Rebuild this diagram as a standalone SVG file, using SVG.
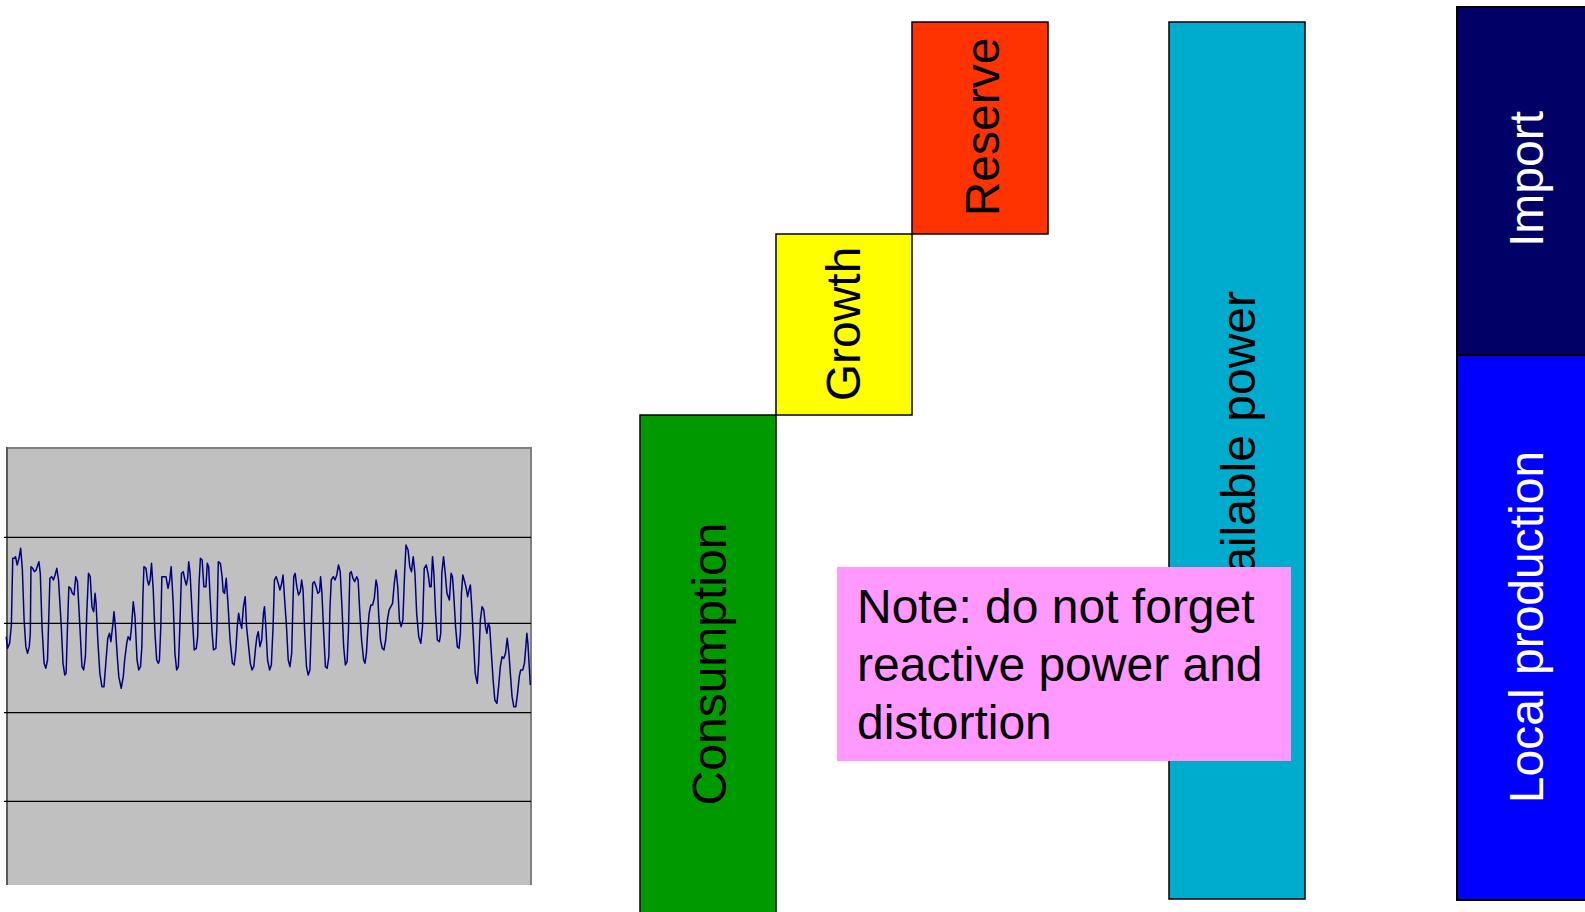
<svg xmlns="http://www.w3.org/2000/svg" width="1585" height="912" viewBox="0 0 1585 912">
<style>
.lbl{font-family:"Liberation Sans",Arial,sans-serif;font-size:48px;text-anchor:middle}
.bar{stroke:#000;stroke-width:1.5}
.grid{stroke:#000;stroke-width:1.2}
.note{font-family:"Liberation Sans",Arial,sans-serif;font-size:48px}
</style>
<rect width="1585" height="912" fill="#fff"/>
<g id="chart">
<rect x="7" y="448" width="524" height="437" fill="#C0C0C0"/>
<line x1="6" y1="448" x2="531" y2="448" stroke="#808080" stroke-width="2"/>
<line x1="531" y1="447" x2="531" y2="885" stroke="#808080" stroke-width="2"/>
<line x1="7" y1="447" x2="7" y2="885" stroke="#5a5a5a" stroke-width="2"/>
<g class="grid">
<line x1="4" y1="537.3" x2="531" y2="537.3"/>
<line x1="4" y1="623.3" x2="531" y2="623.3"/>
<line x1="4" y1="712.7" x2="531" y2="712.7"/>
<line x1="4" y1="801.3" x2="531" y2="801.3"/>
</g>
<polyline transform="translate(0,440) scale(0.34435,0.33333)" fill="none" stroke="#000080" stroke-width="1.5" vector-effect="non-scaling-stroke" stroke-linejoin="round" points="18,590 22,625 28,610 33,555 35,455 37,355 42,355 45,350 50,375 55,355 60,325 65,390 70,540 75,620 80,640 85,620 88,580 90,380 95,385 100,395 105,390 108,380 113,365 117,400 122,560 128,670 133,685 138,660 142,520 145,415 150,410 155,420 160,405 165,385 170,420 178,560 183,670 188,705 192,700 196,560 200,440 205,445 210,460 215,465 220,410 225,425 232,560 238,680 243,690 248,650 252,520 257,400 262,410 267,500 272,515 276,460 279,490 284,600 290,700 296,740 302,740 308,660 313,595 318,580 322,605 328,550 331,515 335,560 340,640 345,710 352,745 358,710 362,660 368,610 372,590 378,600 382,560 387,485 392,530 398,660 403,690 408,680 412,620 415,470 418,380 424,385 428,420 432,435 436,420 440,370 445,450 450,580 455,660 460,670 463,660 467,560 470,410 475,410 482,410 488,445 493,420 497,380 503,490 508,640 513,690 518,680 522,570 527,400 532,395 537,420 541,435 545,415 548,365 552,400 558,520 564,630 570,625 574,590 578,430 582,355 587,360 592,440 598,440 602,370 606,380 610,470 616,580 620,630 627,625 630,560 634,365 640,370 645,410 648,455 652,460 657,415 662,490 668,600 675,670 680,675 685,630 689,560 693,520 697,545 702,565 707,500 712,470 716,560 722,620 727,670 732,690 737,680 742,625 746,590 750,575 755,620 760,600 765,520 768,500 772,560 777,660 783,690 788,675 793,560 797,420 802,410 808,430 813,450 818,430 822,405 826,470 832,560 837,660 842,680 847,640 850,520 853,410 857,400 862,440 867,465 872,455 876,420 880,450 885,580 890,680 895,705 900,690 904,560 908,430 913,425 918,440 923,460 928,455 931,410 935,460 940,580 945,680 950,685 955,650 958,510 962,420 968,410 973,420 978,405 983,375 988,395 993,500 998,620 1003,675 1008,665 1012,570 1016,400 1020,395 1025,415 1030,425 1036,410 1040,420 1045,520 1050,600 1056,660 1060,670 1064,640 1068,570 1072,520 1077,495 1082,495 1087,475 1092,420 1096,440 1100,530 1105,600 1110,625 1115,630 1120,600 1125,540 1130,510 1135,500 1140,490 1145,430 1150,390 1155,440 1160,540 1165,560 1170,540 1175,400 1179,315 1185,330 1190,380 1195,395 1200,350 1205,400 1210,520 1216,590 1222,610 1227,560 1232,385 1238,375 1243,400 1248,440 1252,440 1256,350 1260,400 1265,520 1270,600 1276,605 1280,580 1283,400 1288,350 1293,400 1298,460 1305,480 1310,400 1314,410 1318,470 1323,560 1328,620 1333,625 1337,580 1340,460 1344,405 1348,420 1353,440 1358,470 1362,450 1366,435 1370,500 1375,600 1380,700 1386,730 1390,670 1395,540 1400,500 1405,510 1410,560 1414,580 1418,550 1422,560 1427,640 1432,720 1437,780 1443,790 1448,740 1453,680 1458,650 1463,655 1468,640 1473,595 1478,640 1482,700 1487,770 1492,800 1498,800 1503,760 1508,710 1512,690 1518,690 1523,670 1527,620 1530,580 1533,610 1537,680 1540,735"/>
</g>
<g id="consumption">
<rect class="bar" x="640" y="415" width="136" height="510" fill="#009900"/>
<text class="lbl" transform="translate(726,664) rotate(-90)">Consumption</text>
</g>
<g id="growth">
<rect class="bar" x="776" y="234" width="136" height="181" fill="#FFFF00"/>
<text class="lbl" transform="translate(860,324) rotate(-90)">Growth</text>
</g>
<g id="reserve">
<rect class="bar" x="912" y="22" width="136" height="212" fill="#FF3300"/>
<text class="lbl" transform="translate(999,127) rotate(-90)">Reserve</text>
</g>
<g id="available">
<rect class="bar" x="1169" y="22" width="136" height="877" fill="#00ACCE"/>
<text class="lbl" transform="translate(1255,460) rotate(-90)">Available power</text>
</g>
<g id="note">
<rect x="837" y="567" width="454" height="194" fill="#FF99FF"/>
<text class="note" x="857" y="623">Note: do not forget</text>
<text class="note" x="857" y="681">reactive power and</text>
<text class="note" x="857" y="739">distortion</text>
</g>
<g id="import">
<rect x="1457" y="7" width="140" height="348" fill="#000066" stroke="#000" stroke-width="2"/>
<text class="lbl" fill="#fff" transform="translate(1543,179) rotate(-90)">Import</text>
</g>
<g id="local">
<rect x="1457" y="355" width="140" height="545" fill="#0000FF" stroke="#000" stroke-width="2"/>
<text class="lbl" fill="#fff" transform="translate(1543,627) rotate(-90)">Local production</text>
</g>
<g id="connectors"></g>
</svg>
